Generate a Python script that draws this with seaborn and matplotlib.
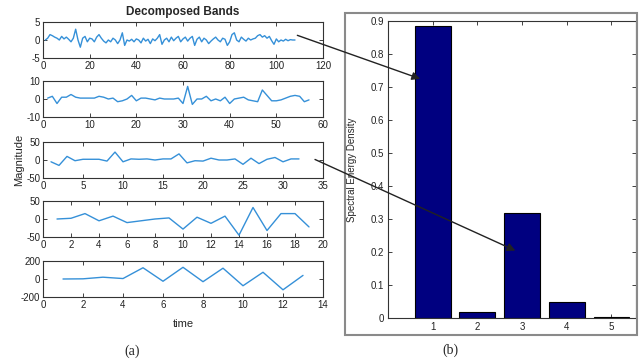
import numpy as np
import pandas as pd
import matplotlib
matplotlib.use("Agg")
import matplotlib.pyplot as plt
import seaborn as sns
from matplotlib.patches import ConnectionPatch, Rectangle

# ---------------- data ----------------
band1 = [0, 0.5, 1.5, 1.2, 0.8, 0.5, 0, 1, 0.3, 0.8,
         0.2, -0.5, 0.5, 3, 0, -2, 0.5, 1, -0.5, 0.5,
         0.3, -0.5, 0.8, 1.5, 0.5, -0.3, -0.8, 0, -0.5, 0.5,
         0, -1, 0, 2, -1.5, 0, -0.3, 0.2, -0.5, 0.3,
         0, -0.8, 0.5, -0.3, 0.2, -1, 0.3, -0.2, 0.5, 1.5,
         -1.2, 0, 0.5, -0.5, 0.8, -0.2, 0.5, 1, -0.5, 0.3,
         0.8, -0.3, 0.5, 1, -1.5, 0.2, 0.8, -0.5, 0.5, 0,
         -1, -0.3, 0.3, 0.8, 0, -0.5, 0.5, 0.2, -1.5, -0.5,
         1.5, 2, 0, -0.5, 0.8, 0.2, -0.3, 0.5, 0, 0.3,
         0.5, 1.2, 1.5, 0.8, 1.2, 0.5, 1, -0.2, -1.2, 0.3,
         -0.5, 0, -0.3, 0.2, -0.2, 0.1, 0, 0]
band2 = [0.5, 1.5, -2.5, 1, 1, 2.5, 1, 0.5, 0.5, 0.5,
         0.5, 1.5, 1, 0, 0.5, -1.5, -1, 0, 2, -1,
         0.5, 0.5, 0, -0.5, 0.5, 0, 0, 0, 0.5, -2.5,
         7, -3, 0, 0, 1.5, -1, 0, -1, 1, -2.5,
         0, 0.5, 1, -0.5, -1, -1.5, 5, 2, -1, -1,
         -0.5, 0.5, 1.5, 2, 1.5, -1.5, -0.5]
band3 = [-5, -15, 10, -2, 2, 2, 2, -3, 22, -5,
         3, 2, 3, 0, 3, 3, 17, -8, -2, -3,
         5, 0, 0, 3, -12, 5, -10, 2, 7, -5,
         3, 3]
band4 = [0, 2, 15, -5, 8, -10, -5, 0, 3, -28,
         5, -12, 8, -45, 32, -32, 15, 15, -22]
band5 = [0, 2, 20, 5, 125, -25, 130, -30, 120, -75,
         75, -120, 40]
bands = [band1, band2, band3, band4, band5]

xlims = [(0, 120), (0, 60), (0, 35), (0, 20), (0, 14)]
xsteps = [20, 10, 5, 2, 2]
ylims = [(-5, 5), (-10, 10), (-50, 50), (-50, 50), (-200, 200)]
yticks = [[-5, 0, 5], [-10, 0, 10], [-50, 0, 50], [-50, 0, 50], [-200, 0, 200]]

band_ids = [1, 2, 3, 4, 5]
energy = [0.885, 0.02, 0.32, 0.048, 0.004]

# ---------------- style ----------------
sns.set_theme(style="ticks")
plt.rcParams["font.family"] = ["Liberation Sans Narrow", "Liberation Sans", "DejaVu Sans"]
plt.rcParams["xtick.direction"] = "in"
plt.rcParams["ytick.direction"] = "in"
plt.rcParams["axes.unicode_minus"] = False

W, H = 639, 362
fig = plt.figure(figsize=(W / 100, H / 100), dpi=100)

def fr(x0, y0, x1, y1):
    return [x0 / W, 1 - y1 / H, (x1 - x0) / W, (y1 - y0) / H]

line_color = "#3590d8"
tops = [22, 81, 142, 201, 261]
axes = []
for i, (vals, top) in enumerate(zip(bands, tops)):
    ax = fig.add_axes(fr(43, top, 323, top + 36))
    df = pd.DataFrame({"t": np.arange(1, len(vals) + 1), "v": vals})
    sns.lineplot(data=df, x="t", y="v", ax=ax, color=line_color, linewidth=1.0)
    ax.set_xlim(*xlims[i])
    ax.set_xticks(np.arange(xlims[i][0], xlims[i][1] + 0.01, xsteps[i]))
    ax.set_ylim(*ylims[i])
    ax.set_yticks(yticks[i])
    ax.set_xlabel("")
    ax.set_ylabel("")
    ax.tick_params(axis="both", labelsize=7, length=3, width=0.6, pad=2,
                   top=True, right=True, colors="#222222")
    for s in ax.spines.values():
        s.set_linewidth(0.8)
        s.set_color("#333333")
    axes.append(ax)

axes[-1].set_xlabel("time", fontsize=8)
axes[-1].xaxis.set_label_coords(0.5, -0.62)
fig.text(183 / W, 1 - 12 / H, "Decomposed Bands", ha="center", va="center",
         fontsize=8.5, fontweight="bold")
fig.text(19 / W, 1 - 160 / H, "Magnitude", rotation=90, ha="center", va="center",
         fontsize=8)

# ---------------- right bar chart ----------------
frame = Rectangle((345 / W, 1 - 335 / H), 292 / W, 322 / H, transform=fig.transFigure,
                  fill=False, edgecolor="#8a8a8a", linewidth=1.5)
fig.add_artist(frame)

axb = fig.add_axes(fr(388, 21, 636, 318.3))
dfb = pd.DataFrame({"band": band_ids, "energy": energy})
sns.barplot(data=dfb, x="band", y="energy", native_scale=True, ax=axb,
            color="#000080", saturation=1, edgecolor="black", linewidth=0.8,
            width=0.8)
axb.set_xlim(0, 5.55)
axb.set_ylim(0, 0.9)
axb.set_xticks(band_ids)
axb.set_xticklabels([str(b) for b in band_ids])
axb.set_yticks(np.round(np.arange(0, 0.91, 0.1), 1))
axb.set_yticklabels(["0"] + [f"{v:.1f}" for v in np.arange(0.1, 0.91, 0.1)])
axb.set_xlabel("")
axb.set_ylabel("Spectral Energy Density", fontsize=7)
axb.yaxis.set_label_coords(-0.125, 0.5)
axb.tick_params(axis="both", labelsize=7, length=3, width=0.6, pad=3,
                top=True, right=True, colors="#222222")
for s in axb.spines.values():
    s.set_linewidth(0.8)
    s.set_color("#333333")

# ---------------- arrows ----------------
for (xa, ya, axa), (xb, yb) in [((109, 1.3, axes[0]), (0.72, 0.725)),
                                ((34, 1.5, axes[2]), (2.85, 0.205))]:
    con = ConnectionPatch(xyA=(xa, ya), coordsA=axa.transData,
                          xyB=(xb, yb), coordsB=axb.transData,
                          arrowstyle="-|>", mutation_scale=12,
                          color="#222222", linewidth=1.0)
    fig.add_artist(con)

fig.text(132 / W, 1 - 351 / H, "(a)", ha="center", va="center", fontsize=10,
         family=["Liberation Serif", "DejaVu Serif"])
fig.text(450 / W, 1 - 350 / H, "(b)", ha="center", va="center", fontsize=10,
         family=["Liberation Serif", "DejaVu Serif"])

fig.savefig("out.png", dpi=100)
